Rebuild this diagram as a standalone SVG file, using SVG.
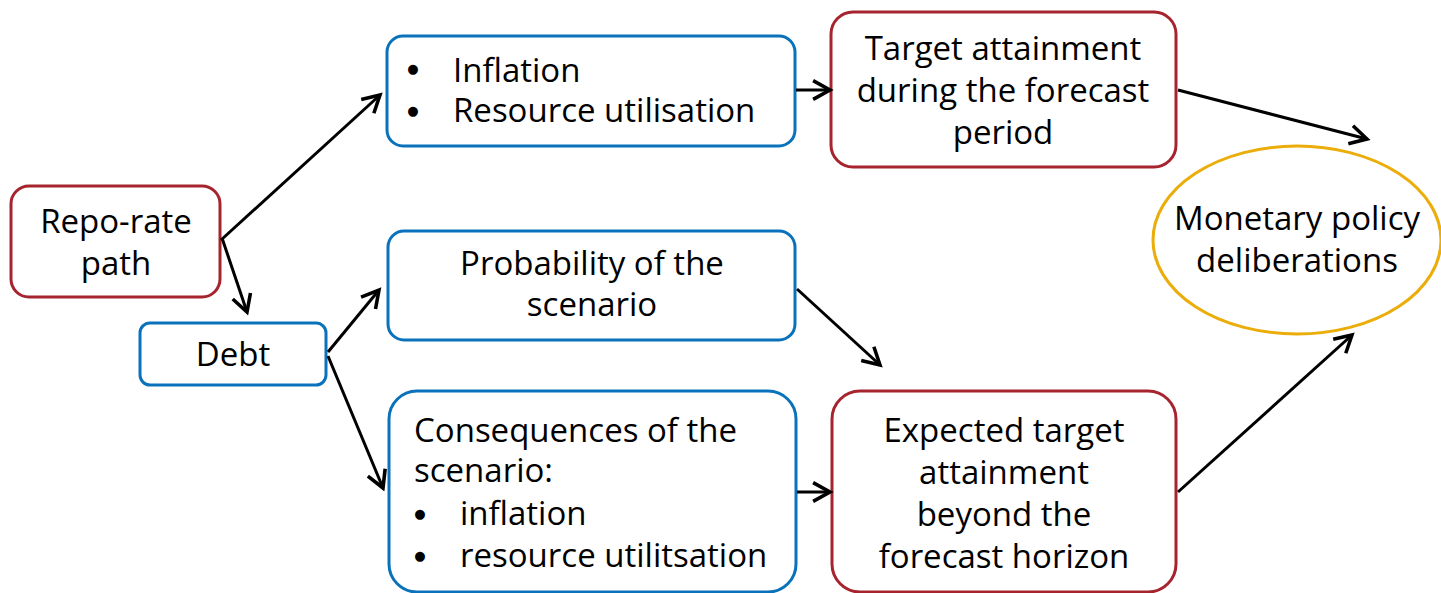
<svg xmlns="http://www.w3.org/2000/svg" width="1441" height="593" viewBox="0 0 1441 593">
<defs>
<style>
.red{fill:#fff;stroke:#A6242E;stroke-width:3}
.blue{fill:#fff;stroke:#0A72BA;stroke-width:3}
.gold{fill:#fff;stroke:#EBAD0A;stroke-width:3}
text{font-family:"Open Sans","Noto Sans",sans-serif;font-size:33px;fill:#000}
text.b{font-family:"DejaVu Sans",sans-serif;font-size:13px;text-anchor:middle}
.c{text-anchor:middle}
.conn line{stroke:#000;stroke-width:3;marker-end:url(#ah)}
</style>
<marker id="ah" viewBox="0 0 12 12" refX="10" refY="6" markerWidth="7.5" markerHeight="7.5" orient="auto" markerUnits="strokeWidth">
<path d="M1,1 L10,6 L1,11" fill="none" stroke="#000" stroke-width="1.9"/>
</marker>
</defs>
<rect width="1441" height="593" fill="#fff"/>
<g id="repo">
<rect class="red" x="11" y="186" width="209" height="111" rx="18"/>
<text class="c" x="116" y="233">Repo-rate</text>
<text class="c" x="116" y="275">path</text>
</g>
<g id="debt">
<rect class="blue" x="140" y="323" width="186" height="62" rx="10"/>
<text class="c" x="233" y="366">Debt</text>
</g>
<g id="inflation">
<rect class="blue" x="387" y="36" width="408" height="110" rx="16"/>
<text class="b" x="413" y="73">●</text>
<text x="453" y="82">Inflation</text>
<text class="b" x="413" y="115">●</text>
<text x="453" y="122">Resource utilisation</text>
</g>
<g id="target">
<rect class="red" x="831" y="12" width="345" height="155" rx="22"/>
<text class="c" x="1003" y="60">Target attainment</text>
<text class="c" x="1003" y="102">during the forecast</text>
<text class="c" x="1003" y="144">period</text>
</g>
<g id="probability">
<rect class="blue" x="388" y="231" width="407" height="109" rx="16"/>
<text class="c" x="592" y="275">Probability of the</text>
<text class="c" x="592" y="316">scenario</text>
</g>
<g id="consequences">
<rect class="blue" x="389" y="391" width="407" height="201" rx="28"/>
<text x="414" y="442">Consequences of the</text>
<text x="414" y="482">scenario:</text>
<text class="b" x="420" y="518">●</text>
<text x="460" y="525">inflation</text>
<text class="b" x="420" y="560">●</text>
<text x="460" y="567">resource utilitsation</text>
</g>
<g id="expected">
<rect class="red" x="832" y="391" width="344" height="201" rx="28"/>
<text class="c" x="1004" y="442">Expected target</text>
<text class="c" x="1004" y="484">attainment</text>
<text class="c" x="1004" y="526">beyond the</text>
<text class="c" x="1004" y="568">forecast horizon</text>
</g>
<g id="monetary">
<ellipse class="gold" cx="1297" cy="240" rx="144" ry="94"/>
<text class="c" x="1297" y="230">Monetary policy</text>
<text class="c" x="1297" y="272">deliberations</text>
</g>
<g class="conn" id="connectors">
<line x1="221" y1="240" x2="380" y2="95"/>
<line x1="222" y1="238" x2="247" y2="312"/>
<line x1="328" y1="352" x2="379" y2="290"/>
<line x1="328" y1="356" x2="383" y2="488"/>
<line x1="796" y1="90" x2="830" y2="90"/>
<line x1="1178" y1="90" x2="1367" y2="139"/>
<line x1="797" y1="289" x2="880" y2="365"/>
<line x1="797" y1="492" x2="830" y2="492"/>
<line x1="1178" y1="492" x2="1352" y2="335"/>
</g>
</svg>
